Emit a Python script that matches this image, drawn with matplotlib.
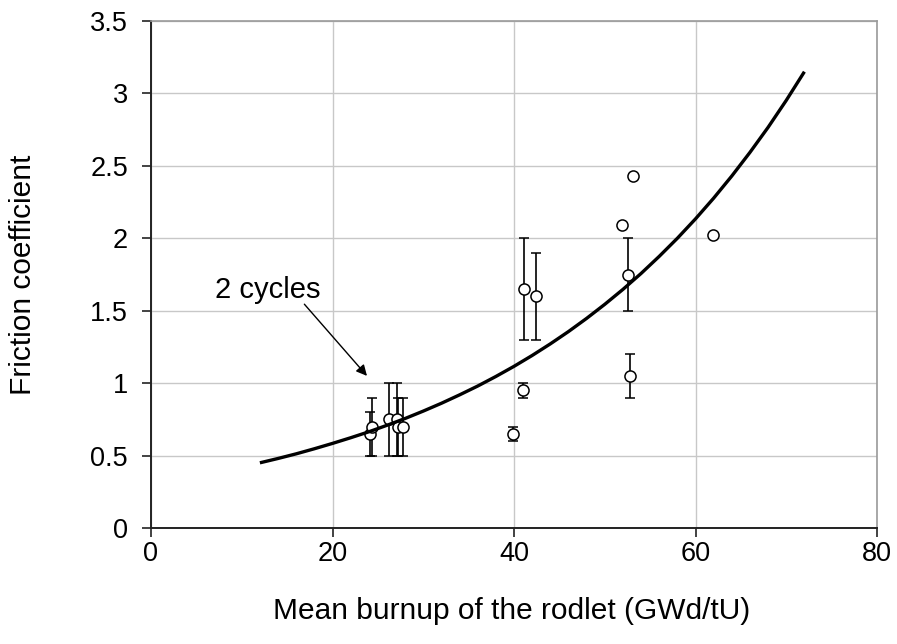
"""Friction coefficient vs mean burnup of the rodlet"""
import numpy as np
import matplotlib
matplotlib.use("Agg")
import matplotlib.pyplot as plt

plt.rcParams["font.family"] = ["Liberation Sans", "DejaVu Sans"]

# ── data ──
# points with error bars (x, y, lower bound, upper bound)
burnup_err = [24.1, 24.3, 26.2, 27.1, 27.2, 27.8, 41.1, 42.4, 52.6, 52.8, 41.0, 39.9]
friction_err = [0.65, 0.70, 0.75, 0.75, 0.70, 0.70, 1.65, 1.60, 1.75, 1.05, 0.95, 0.65]
friction_lo = [0.50, 0.50, 0.50, 0.50, 0.50, 0.50, 1.30, 1.30, 1.50, 0.90, 0.90, 0.60]
friction_hi = [0.80, 0.90, 1.00, 1.00, 0.90, 0.90, 2.00, 1.90, 2.00, 1.20, 1.00, 0.70]

# points without error bars
burnup_pts = [51.9, 53.1, 61.9]
friction_pts = [2.09, 2.43, 2.02]

# fitted trend curve, read at 2 GWd/tU steps
curve_x = [12, 14, 16, 18, 20, 22, 24, 26, 28, 30, 32, 34, 36, 38, 40, 42,
           44, 46, 48, 50, 52, 54, 56, 58, 60, 62, 64, 66, 68, 70, 72]
curve_y = [0.45, 0.48, 0.512, 0.547, 0.584, 0.623, 0.664, 0.709, 0.756,
           0.807, 0.861, 0.919, 0.98, 1.046, 1.116, 1.191, 1.271, 1.356,
           1.447, 1.544, 1.647, 1.757, 1.875, 2.0, 2.134, 2.277, 2.43,
           2.593, 2.766, 2.952, 3.15]

x_ticks = [0, 20, 40, 60, 80]
y_ticks = [0, 0.5, 1, 1.5, 2, 2.5, 3, 3.5]
y_ticklabels = ["0", "0.5", "1", "1.5", "2", "2.5", "3", "3.5"]

FS_LABEL = 21.5
FS_TICK = 19.5

fig = plt.figure(figsize=(8.97, 6.44), dpi=100)
ax = fig.add_axes([151 / 897, 1 - 528 / 644, (877 - 151) / 897, (528 - 21) / 644])

y = np.array(friction_err)
yerr = [y - np.array(friction_lo), np.array(friction_hi) - y]
ax.errorbar(burnup_err, friction_err, yerr=yerr, fmt="o", ms=8, mfc="white",
            mec="black", mew=1.1, ecolor="black", elinewidth=1.2, capsize=3.5,
            capthick=1.2, zorder=3)
ax.plot(burnup_pts, friction_pts, "o", ms=8, mfc="white", mec="black",
        mew=1.1, ls="none", zorder=3)
ax.plot(curve_x, curve_y, color="black", lw=2.4, zorder=4,
        solid_capstyle="butt", solid_joinstyle="round")

# annotation
ax.text(12.9, 1.64, "2 cycles", fontsize=21, ha="center", va="center")
ax.annotate("", xy=(23.8, 1.05), xytext=(16.9, 1.545),
            arrowprops=dict(arrowstyle="-|>", color="black", lw=1,
                            mutation_scale=16, shrinkA=0, shrinkB=0))

ax.set_xlim(0, 80)
ax.set_ylim(0, 3.5)
ax.set_xticks(x_ticks)
ax.set_yticks(y_ticks)
ax.set_xticklabels([str(v) for v in x_ticks])
ax.set_yticklabels(y_ticklabels)
ax.grid(True, color="#c8c8c8", lw=1)
ax.set_axisbelow(True)

for s in ["top", "right"]:
    ax.spines[s].set_color("#9a9a9a")
    ax.spines[s].set_linewidth(1.2)
for s in ["left", "bottom"]:
    ax.spines[s].set_color("#222222")
    ax.spines[s].set_linewidth(1.4)

ax.tick_params(axis="both", direction="out", length=6.5, width=1.2,
               color="#222222", labelsize=FS_TICK)
ax.tick_params(axis="x", pad=3)
ax.tick_params(axis="y", pad=10)

ax.set_xlabel("Mean burnup of the rodlet (GWd/tU)", fontsize=FS_LABEL, va="center")
ax.xaxis.set_label_coords(0.497, -0.164)
ax.set_ylabel("Friction coefficient", fontsize=FS_LABEL, va="center")
ax.yaxis.set_label_coords(-0.176, 0.5)

fig.savefig("out.png", dpi=100)
